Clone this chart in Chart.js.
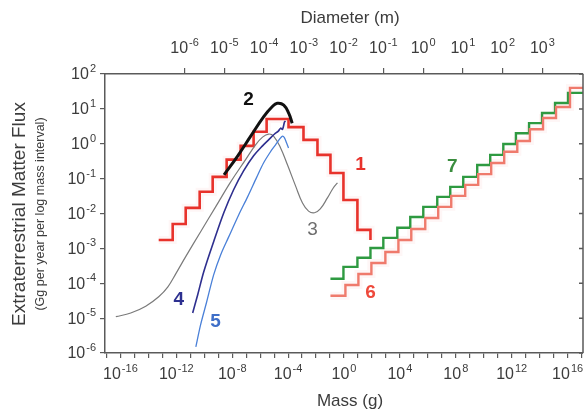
<!DOCTYPE html>
<html>
<head>
<meta charset="utf-8">
<script src="https://cdn.jsdelivr.net/npm/chart.js@4.4.1/dist/chart.umd.min.js"></script>
<style>
  html, body { margin: 0; padding: 0; background: #fff; }
  #wrap { width: 585px; height: 415px; }
</style>
</head>
<body>
<div id="wrap"><canvas id="fluxChart" width="585" height="415"></canvas></div>
<script>
// tick exponents (mass in g, flux in Gg/yr per log mass interval, diameter in m)
const massTickExps = [-17, -16, -15, -14, -13, -12, -11, -10, -9, -8, -7, -6, -5, -4, -3, -2, -1,
                      0, 1, 2, 3, 4, 5, 6, 7, 8, 9, 10, 11, 12, 13, 14, 15, 16, 17];
const massLabelExps = [-16, -12, -8, -4, 0, 4, 8, 12, 16];
const fluxTickExps = [-6, -5, -4, -3, -2, -1, 0, 1, 2];
const diamTickExps = [-6, -5, -4, -3, -2, -1, 0, 1, 2, 3];

// 1: stepped, bin edges; the last point closes the final drop
const s1Mass = [5.5e-14, 5.5e-13, 4.7e-12, 4.7e-11, 4.0e-10, 4.0e-9, 4.0e-8, 3.4e-7, 2.9e-6,
                1.07e-4, 1.26e-3, 1.26e-2, 0.107, 0.91, 9.1, 78];
const s1Flux = [1.74e-3, 5.0e-3, 1.45e-2, 4.2e-2, 0.112, 0.35, 0.87, 2.2, 5.1,
                3.0, 1.29, 0.48, 0.145, 0.0245, 3.4e-3, 1.74e-3];

// 2: thick black curve
const s2Mass = [2.6e-9, 2.3e-8, 2.0e-7, 1.8e-6, 7.2e-6, 1.66e-5, 4.9e-5, 1.12e-4, 1.95e-4];
const s2Flux = [0.129, 0.43, 1.6, 6.0, 11.5, 14.5, 12.9, 7.4, 3.9];

// 3: thin grey curve
const s3Mass = [4.7e-17, 5.5e-16, 6.5e-15, 5.5e-14, 2.5e-13, 9.1e-13, 4.7e-12, 5.5e-11, 6.5e-10,
                7.8e-9, 9.1e-8, 4.7e-7, 1.48e-6, 4.0e-6, 9.1e-6, 2.9e-5, 9.1e-5, 3.4e-4,
                1.07e-3, 2.9e-3, 7.8e-3, 2.0e-2, 6.5e-2, 0.17, 0.34];
const s3Flux = [1.1e-5, 1.4e-5, 2.2e-5, 4.1e-5, 7.9e-5, 1.86e-4, 5.8e-4, 3.0e-3, 1.55e-2,
                8.1e-2, 0.35, 0.93, 1.55, 1.9, 1.66, 0.76, 0.245, 0.062,
                0.02, 0.0117, 0.0105, 0.0135, 0.028, 0.054, 0.076];

// 4: dark blue
const s4Mass = [1.48e-11, 3.4e-11, 9.1e-11, 4.7e-10, 2.5e-9, 1.26e-8, 6.5e-8, 3.4e-7,
                1.48e-6, 4.0e-6, 1.07e-5, 2.0e-5, 2.9e-5, 4.0e-5, 5.5e-5, 6.5e-5];
const s4Flux = [1.41e-5, 4.7e-5, 2.1e-4, 1.55e-3, 1.05e-2, 4.8e-2, 0.166, 0.45,
                0.87, 1.29, 1.9, 2.3, 2.8, 2.6, 4.2, 4.5];

// 5: light blue
const s5Mass = [2.5e-11, 5.5e-11, 1.48e-10, 4.7e-10, 1.48e-9, 5.5e-9, 2.9e-8, 1.26e-7, 5.5e-7,
                1.74e-6, 5.5e-6, 1.26e-5, 2.5e-5, 4.0e-5, 5.5e-5, 7.8e-5, 1.07e-4];
const s5Flux = [1.5e-6, 6.5e-6, 2.9e-5, 1.74e-4, 6.5e-4, 2.1e-3, 9.1e-3, 0.030, 0.107,
                0.28, 0.59, 0.93, 1.38, 1.66, 1.48, 1.05, 0.76];

// 6: salmon steps
const s6Mass = [0.107, 1.26, 10.7, 91, 910, 7.8e3, 6.5e4, 6.5e5, 5.5e6, 4.7e7,
                4.7e8, 4.0e9, 3.4e10, 2.9e11, 2.5e12, 2.0e13, 1.74e14, 1.48e15, 1.48e16, 1.26e17];
const s6Flux = [4.4e-5, 8.9e-5, 1.85e-4, 3.8e-4, 7.9e-4, 1.74e-3, 3.6e-3, 7.4e-3, 1.55e-2, 3.2e-2,
                6.6e-2, 0.135, 0.28, 0.59, 1.2, 2.6, 5.5, 11.3, 40, 40];

// 7: green steps
const s7Mass = [0.107, 0.91, 9.1, 78, 650, 6.5e3, 5.5e4, 4.7e5, 4.7e6, 4.0e7,
                3.4e8, 3.4e9, 2.9e10, 2.5e11, 2.0e12, 1.74e13, 1.48e14, 1.26e15, 1.07e16, 1.26e17];
const s7Flux = [1.35e-4, 2.95e-4, 5.4e-4, 1.03e-3, 2.0e-3, 3.9e-3, 7.9e-3, 1.55e-2, 3.0e-2, 5.8e-2,
                0.112, 0.245, 0.48, 0.98, 2.0, 3.9, 7.6, 14.7, 28.7, 28.7];

// curve numbers, placed in data units
const tagText = ['1', '2', '3', '4', '5', '6', '7'];
const tagMass = [15, 1.5e-7, 5.5e-3, 1.5e-12, 6.5e-10, 78, 5.5e7];
const tagFlux = [0.245, 18, 3.4e-3, 3.3e-5, 7.8e-6, 5.2e-5, 0.22];
const tagColor = ['#e8322b', '#111111', '#6e6e6e', '#2d3090', '#3f6fc8', '#ee4a3c', '#3a8d3e'];
const tagBold = [true, true, false, true, true, true, true];

const fontFamily = '"Liberation Sans", Arial, sans-serif';
const axisColor = '#5a5a5a';
const textColor = '#3c3c3c';

const pts = (xs, ys) => xs.map((x, i) => ({ x: x, y: ys[i] }));

function line(data, color, width, extra) {
    return Object.assign({
        data: data,
        borderColor: color,
        borderWidth: width,
        pointRadius: 0,
        fill: false,
        borderJoinStyle: 'miter',
        borderCapStyle: 'butt'
    }, extra || {});
}

function drawPower(ctx, exp, x, y, align) {
    ctx.font = '16px ' + fontFamily;
    const wb = ctx.measureText('10').width;
    ctx.font = '11px ' + fontFamily;
    const ws = ctx.measureText(String(exp)).width;
    const total = wb + 1 + ws;
    const left = align === 'right' ? x - total : x - total / 2;
    ctx.textAlign = 'left';
    ctx.textBaseline = 'middle';
    ctx.font = '16px ' + fontFamily;
    ctx.fillText('10', left, y);
    ctx.font = '11px ' + fontFamily;
    ctx.fillText(String(exp), left + wb + 1, y - 6);
}

const decor = {
    id: 'decor',
    afterDraw(chart) {
        const { ctx, chartArea: a, scales } = chart;
        ctx.save();

        // right frame line with small inward ticks
        ctx.strokeStyle = axisColor;
        ctx.lineWidth = 1.5;
        ctx.beginPath();
        ctx.moveTo(a.right, a.top);
        ctx.lineTo(a.right, a.bottom);
        fluxTickExps.forEach(e => {
            const y = scales.y.getPixelForValue(Math.pow(10, e));
            ctx.moveTo(a.right, y);
            ctx.lineTo(a.right - 4, y);
        });
        ctx.stroke();

        ctx.fillStyle = textColor;
        massLabelExps.forEach(e => drawPower(ctx, e, scales.x.getPixelForValue(Math.pow(10, e)), a.bottom + 22, 'center'));
        fluxTickExps.forEach(e => drawPower(ctx, e, a.left - 9, scales.y.getPixelForValue(Math.pow(10, e)) + 1, 'right'));
        diamTickExps.forEach(e => drawPower(ctx, e, scales.x2.getPixelForValue(Math.pow(10, e)), a.top - 25, 'center'));

        // axis titles
        ctx.textAlign = 'center';
        ctx.textBaseline = 'middle';
        ctx.font = '17px ' + fontFamily;
        ctx.fillText('Diameter (m)', 350, 18);
        ctx.fillText('Mass (g)', 350, 401);

        ctx.save();
        ctx.translate(20, 214);
        ctx.rotate(-Math.PI / 2);
        ctx.font = '19px ' + fontFamily;
        ctx.fillText('Extraterrestrial Matter Flux', 0, 0);
        ctx.font = '12.5px ' + fontFamily;
        ctx.fillText('(Gg per year per log mass interval)', 0, 21);
        ctx.restore();

        // curve numbers
        tagText.forEach((t, i) => {
            ctx.fillStyle = tagColor[i];
            ctx.font = (tagBold[i] ? 'bold ' : '') + '19px ' + fontFamily;
            ctx.fillText(t, scales.x.getPixelForValue(tagMass[i]), scales.y.getPixelForValue(tagFlux[i]));
        });
        ctx.restore();
    }
};

const halo = 'rgba(245, 130, 130, 0.07)';

new Chart(document.getElementById('fluxChart'), {
    type: 'line',
    data: {
        datasets: [
            line(pts(s4Mass, s4Flux), '#2e2f8f', 1.6, { tension: 0.3 }),
            line(pts(s5Mass, s5Flux), '#4a80d8', 1.3, { tension: 0.3 }),
            line(pts(s2Mass, s2Flux), '#111111', 3, { tension: 0.4 }),
            line(pts(s3Mass, s3Flux), '#7a7a7a', 1.2, { tension: 0.4 }),
            line(pts(s1Mass, s1Flux), '#e8322b', 2.6, { stepped: true }),
            line(pts(s6Mass, s6Flux), '#ef7a6c', 2.4, { stepped: true }),
            line(pts(s7Mass, s7Flux), '#2e9a41', 2.4, { stepped: true }),
            line(pts(s1Mass, s1Flux), halo, 8, { stepped: true }),
            line(pts(s6Mass, s6Flux), halo, 8, { stepped: true })
        ]
    },
    options: {
        responsive: false,
        animation: false,
        layout: { padding: { left: 0, right: 2, top: 0, bottom: 0 } },
        plugins: { legend: { display: false }, tooltip: { enabled: false } },
        scales: {
            x: {
                type: 'logarithmic',
                position: 'bottom',
                min: 7.9e-18,
                max: 1.26e17,
                afterBuildTicks: s => { s.ticks = massTickExps.map(e => ({ value: Math.pow(10, e) })); },
                afterFit: s => { s.height = 62; },
                ticks: { display: false },
                grid: { drawOnChartArea: false, drawTicks: true, tickLength: 5, color: axisColor, lineWidth: 1.2 },
                border: { display: true, color: axisColor, width: 1.5 }
            },
            x2: {
                type: 'logarithmic',
                position: 'top',
                min: 1e-8,
                max: 1.05e4,
                afterBuildTicks: s => { s.ticks = diamTickExps.map(e => ({ value: Math.pow(10, e) })); },
                afterFit: s => { s.height = 74; },
                ticks: { display: false },
                grid: { drawOnChartArea: false, drawTicks: true, tickLength: 6, color: axisColor, lineWidth: 1.2 },
                border: { display: true, color: axisColor, width: 1.5 }
            },
            y: {
                type: 'logarithmic',
                position: 'left',
                min: 1e-6,
                max: 1e2,
                afterBuildTicks: s => { s.ticks = fluxTickExps.map(e => ({ value: Math.pow(10, e) })); },
                afterFit: s => { s.width = 105; },
                ticks: { display: false },
                grid: { drawOnChartArea: false, drawTicks: true, tickLength: 5, color: axisColor, lineWidth: 1.2 },
                border: { display: true, color: axisColor, width: 1.5 }
            }
        }
    },
    plugins: [decor]
});
</script>
</body>
</html>
